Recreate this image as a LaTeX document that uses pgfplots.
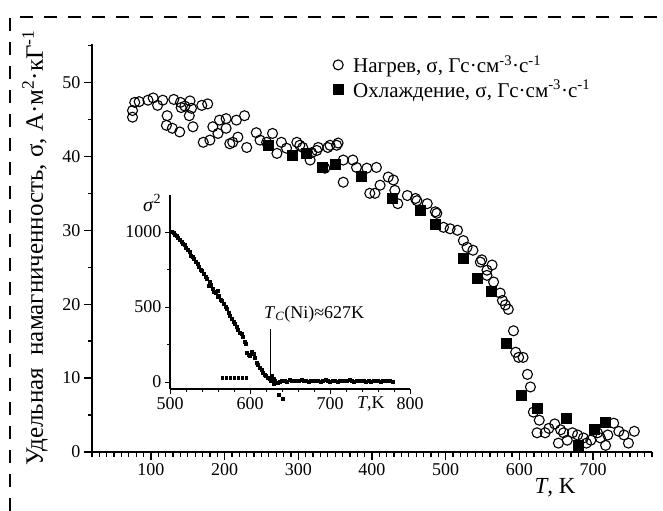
\documentclass[border=0pt]{standalone}
\usepackage{pgfplots}
\pgfplotsset{compat=1.18}
\usepackage{fontspec}
\setmainfont{Liberation Serif}

\begin{document}
\begin{tikzpicture}
\path[use as bounding box] (0,0) rectangle (663bp,-511bp);
\draw[line width=2bp, dash pattern=on 13bp off 11bp] (10bp,-511bp) -- (10bp,-17bp) -- (663bp,-17bp);

\begin{axis}[
  at={(92bp,-452bp)}, anchor=south west, scale only axis,
  width=560bp, height=408bp,
  xmin=20, xmax=780, ymin=0, ymax=55.2,
  axis lines=left, axis line style={-, line width=1.6bp},
  xtick={100,200,...,700}, ytick={0,10,...,50},
  minor xtick={20,30,...,780}, minor ytick={5,15,...,55},
  tick align=outside,
  major tick length=8bp, minor tick length=4.5bp,
  tick style={black, line width=1.3bp},
  tick label style={font=\fontsize{18bp}{21bp}\selectfont},
  /pgf/number format/assume math mode=true,
  /pgf/number format/1000 sep={},
  legend style={at={(0.425,0.982)}, anchor=north west, draw=none, fill=none,
    font=\fontsize{21bp}{25bp}\selectfont, row sep=2bp, column sep=8bp},
  legend cell align=left,
  clip=false,
]
\addplot[only marks, mark=o, mark size=5bp, mark options={line width=1.1bp}] coordinates {
(75,45.3)(75,46.2)(78,47.3)(84,47.4)(96,47.6)(103,47.9)(109,46.9)(116,47.6)
(122,45.5)(121,44.2)(129,43.8)(139,43.3)(131,47.7)(140,47.3)(141,46.6)(146,46.8)
(152,45.5)(155,46.5)(157,44.0)(153,47.5)(169,46.9)(177,47.1)(171,41.9)(180,42.2)
(184,44.0)(191,43.1)(193,44.9)(202,45.1)(202,43.8)(207,41.7)(211,41.9)(216,44.9)
(227,45.5)(218,42.6)(230,41.2)(243,43.2)(248,42.2)(257,41.9)(265,43.1)(271,40.4)
(277,41.9)(284,41.1)(298,41.9)(302,41.5)(306,41.2)(316,39.5)(318,40.5)(325,40.8)
(327,41.2)(336,38.4)(340,41.2)(343,41.5)(352,41.5)(354,41.8)(361,39.5)(361,36.5)
(374,39.5)(379,38.5)(393,38.4)(397,35.0)(404,35.0)(406,38.5)(411,36.1)(422,37.2)
(429,36.8)(431,35.4)(435,33.6)(448,34.7)(459,34.3)(461,34.0)(475,33.6)(486,32.5)
(488,32.3)(497,30.4)(506,30.2)(516,30.0)(524,28.6)(529,27.7)(537,27.3)(547,25.7)
(549,26.0)(556,24.6)(563,25.3)(556,23.9)(565,23.0)(574,21.5)(577,20.5)(581,19.9)
(585,19.3)(592,16.4)(595,13.5)(599,12.8)(605,12.8)(611,10.5)(615,8.8)(619,5.4)
(627,4.3)(624,2.6)(635,2.6)(640,3.2)(648,3.8)(656,3.0)(653,1.2)(660,2.6)
(665,1.6)(672,2.6)(679,2.3)(687,1.9)(691,1.2)(697,1.6)(706,2.6)(710,1.9)
(717,0.9)(720,2.3)(728,3.9)(735,2.8)(742,2.3)(748,1.2)(756,2.8)
};
\addlegendentry{Нагрев, σ, Гс·см\textsuperscript{-3}·с\textsuperscript{-1}}
\addplot[only marks, mark=square*, mark size=5bp, black] coordinates {
(259,41.5)(292,40.1)(311,40.4)(332,38.5)(350,39.0)(386,37.3)(427,34.3)(465,32.7)
(486,30.8)(524,26.2)(543,23.5)(562,21.8)(582,14.7)(603,7.7)(624,5.9)(663,4.6)
(680,0.9)(701,3.1)(717,4.1)
};
\addlegendentry{Охлаждение, σ, Гс·см\textsuperscript{-3}·с\textsuperscript{-1}}
\end{axis}

\begin{axis}[
  at={(170bp,-389bp)}, anchor=south west, scale only axis,
  width=240bp, height=194bp,
  xmin=500, xmax=800, ymin=-47, ymax=1247,
  axis lines=left, axis line style={-, line width=1.1bp},
  xtick={500,600,700,800}, ytick={0,500,1000},
  minor xtick={520,540,...,780}, minor ytick={250,750},
  tick align=outside,
  major tick length=5bp, minor tick length=3bp,
  tick style={black, line width=0.9bp},
  tick label style={font=\fontsize{18bp}{21bp}\selectfont},
  /pgf/number format/assume math mode=true,
  /pgf/number format/1000 sep={},
  clip=false,
]
\addplot[only marks, mark=square*, mark size=1.5bp, black] coordinates {
(502,1005)(504,995)(506,985)(508,978)(510,960)(512,950)(514,935)(516,925)(518,915)
(520,895)(522,880)(524,870)(526,845)(528,835)(530,820)(532,805)(534,790)(536,770)
(538,750)(540,740)(542,720)(544,705)(546,690)(548,640)(549,670)(551,650)(553,620)
(555,600)(557,595)(559,570)(560,610)(561,575)(563,550)(565,540)(567,520)(569,500)
(571,490)(573,460)(575,445)(577,420)(579,405)(581,390)(583,370)(585,350)(587,330)
(589,320)(591,300)(593,270)(595,255)(596,195)(598,180)(600,175)(602,200)(604,190)
(606,160)(608,130)(610,115)(612,95)(614,80)(616,65)(618,50)(620,40)(622,30)
(624,20)(626,10)(627,40)(629,25)(630,-10)
(631,8)(634,-5)(637,2)(640,6)(643,10)(646,5)(649,12)(652,8)(655,10)(658,6)
(661,9)(664,12)(667,7)(670,10)(673,5)(676,9)(679,11)(682,6)(685,8)(688,4)
(691,9)(694,12)(697,7)(700,5)(703,10)(706,8)(709,3)(712,7)(715,11)(718,6)
(721,9)(724,12)(727,7)(730,4)(733,10)(736,8)(739,6)(742,11)(745,5)(748,8)
(751,3)(754,7)(757,10)(760,6)(763,4)(766,8)(769,9)(772,6)(775,7)(778,5)
(636,-87)(641,-113)
};
\addplot[only marks, mark=square*, mark size=1.1bp, black] coordinates {
(565,29)(570,29)(575,29)(580,29)(585,29)(590,29)(595,29)
};
\draw[line width=1bp] (axis cs:625,33) -- (axis cs:625,353);
\end{axis}

\node[rotate=90, font=\fontsize{25bp}{30bp}\selectfont] at (35bp,-248bp)
  {Удельная\ \ намагниченность, σ, А·м\textsuperscript{2}·кГ\textsuperscript{-1}};
\node[font=\fontsize{23bp}{27bp}\selectfont] at (555bp,-488bp) {\textit{T}, K};
\node[font=\fontsize{20bp}{24bp}\selectfont] at (152bp,-203bp) {\textit{σ}\textsuperscript{2}};
\node[font=\fontsize{18bp}{21bp}\selectfont, anchor=base west, inner sep=0pt] at (264bp,-318bp)
  {\textit{T}\textsubscript{\textit{C}}(Ni)≈627K};
\node[font=\fontsize{18bp}{21bp}\selectfont, anchor=base west, inner sep=0pt] at (357bp,-408bp)
  {\textit{T},K};
\end{tikzpicture}
\end{document}
